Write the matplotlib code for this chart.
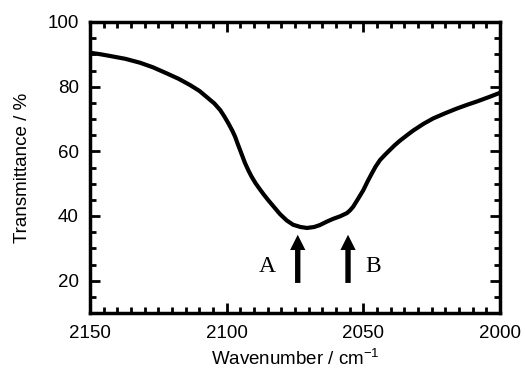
import matplotlib
matplotlib.use("Agg")
import matplotlib.pyplot as plt
from matplotlib.ticker import MultipleLocator

plt.rcParams['font.family'] = ['Liberation Sans', 'DejaVu Sans']
plt.rcParams['mathtext.fontset'] = 'custom'
plt.rcParams['mathtext.rm'] = 'Liberation Sans'

# IR spectrum
wavenumber = [2150, 2146, 2142.7, 2137, 2131.7, 2127, 2121.9, 2117.5, 2113.4, 2110,
              2107.3, 2104.5, 2102.4, 2101, 2099.4, 2098, 2096.9, 2096, 2095.1,
              2094.2, 2093.3, 2092, 2090.9, 2089.4, 2087.8, 2086.3, 2084.8, 2082.5,
              2080.5, 2078, 2075.7, 2073, 2070.6, 2068, 2065.9, 2063.5, 2061.1,
              2058.5, 2056, 2054.8, 2053.7, 2052, 2050, 2048.5, 2047, 2045.5,
              2043.9, 2042, 2040.2, 2038.5, 2036.6, 2034, 2031.8, 2028, 2024.4,
              2020, 2015.9, 2012, 2008.5, 2004, 2000]
transmittance = [90.5, 90.0, 89.5, 88.6, 87.4, 86.0, 84.1, 82.4, 80.5, 78.7,
                 76.8, 74.8, 72.8, 71.0, 68.7, 66.5, 64.5, 62.4, 60.4,
                 58.4, 56.4, 54.0, 52.2, 50.1, 48.2, 46.5, 44.9, 42.6,
                 40.6, 38.6, 37.3, 36.6, 36.3, 36.6, 37.2, 38.2, 39.1,
                 39.9, 40.9, 41.8, 42.9, 45.2, 48.0, 50.6, 53.0, 55.3,
                 57.3, 59.0, 60.5, 61.9, 63.3, 65.0, 66.4, 68.5, 70.2,
                 71.8, 73.2, 74.4, 75.4, 76.8, 78.1]

peak_pos = [2074, 2055.6]
peak_labels = ["A", "B"]
label_pos = [2085, 2046.5]

fig = plt.figure(figsize=(5.25, 3.7), dpi=100)
ax = fig.add_axes([90/525, 1-313/370, 410/525, 291/370])

ax.plot(wavenumber, transmittance, color='black', lw=3, solid_joinstyle='round')

for xp, lab, xl in zip(peak_pos, peak_labels, label_pos):
    ax.annotate("", xy=(xp, 34.2), xytext=(xp, 19.3),
                arrowprops=dict(arrowstyle="simple,tail_width=0.35,head_width=1.0,head_length=1.0",
                                fc='black', ec='black', lw=0, mutation_scale=11,
                                shrinkA=0, shrinkB=0))
    ax.text(xl, 24.3, lab, family=['Liberation Serif', 'DejaVu Serif'], fontsize=17,
            ha='center', va='center')

ax.set_xlim(2150, 2000)
ax.set_ylim(10, 100)
ax.xaxis.set_major_locator(MultipleLocator(50))
ax.xaxis.set_minor_locator(MultipleLocator(5))
ax.yaxis.set_major_locator(MultipleLocator(20))
ax.yaxis.set_minor_locator(MultipleLocator(5))
ax.tick_params(which='both', direction='in', top=True, right=True, width=2,
               labelsize=13.5)
ax.tick_params(axis='x', pad=9)
ax.tick_params(axis='y', pad=8)
ax.tick_params(which='major', length=7)
ax.tick_params(which='minor', length=4)
for s in ax.spines.values():
    s.set_linewidth(2.5)

ax.set_xlabel("Wavenumber / cm$^{\\mathregular{-1}}$", fontsize=13.5, labelpad=4)
ax.set_ylabel("Transmittance / %", fontsize=13.5, labelpad=12)

fig.savefig("out.png", dpi=100)
